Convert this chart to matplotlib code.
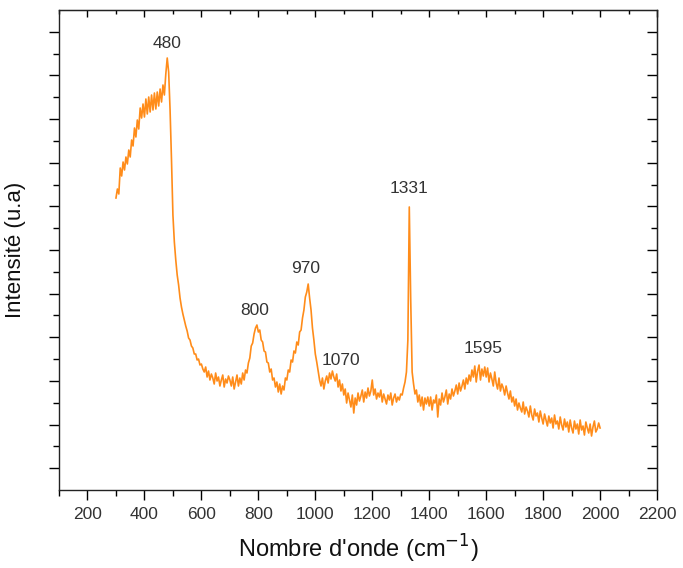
import numpy as np
import matplotlib
matplotlib.use("Agg")
import matplotlib.pyplot as plt
from matplotlib.ticker import MultipleLocator, FixedLocator, NullFormatter

plt.rcParams['font.family'] = ['Liberation Sans', 'DejaVu Sans']

# Raman spectrum, sampled every 5 cm-1 from 300 to 2000 cm-1
wavenumber = np.arange(300, 2001, 5)
intensity = [
    292, 301, 296, 322, 314, 328, 320, 333, 326, 340, 333, 350, 344, 362, 353, 370, 361, 382, 372, 386,   # 300-395
    373, 391, 376, 393, 378, 395, 380, 397, 381, 398, 384, 401, 388, 405, 395, 416, 432, 418, 380, 330,   # 400-495
    275, 248, 230, 215, 205, 192, 183, 176, 170, 164, 159, 152, 150, 144, 142, 136, 136, 130, 131, 125,   # 500-595
    126, 121, 118, 123, 113, 119, 110, 116, 112, 106, 117, 109, 113, 104, 110, 115, 103, 111, 107, 114,   # 600-695
    110, 104, 113, 101, 108, 115, 104, 112, 106, 117, 110, 120, 117, 127, 132, 144, 147, 156, 162, 165,   # 700-795
    158, 160, 150, 148, 139, 138, 128, 127, 118, 121, 110, 112, 103, 108, 98, 106, 96, 104, 100, 112,     # 800-895
    110, 120, 118, 130, 128, 139, 137, 148, 145, 158, 160, 172, 180, 193, 198, 206, 192, 180, 162, 150,   # 900-995
    136, 128, 119, 110, 104, 112, 101, 109, 114, 107, 117, 111, 119, 113, 109, 116, 103, 110, 99, 106,    # 1000-1095
    95, 101, 87, 97, 90, 83, 95, 77, 92, 85, 97, 89, 94, 100, 88, 98, 92, 102, 94, 99,                    # 1100-1195
    110, 95, 101, 91, 97, 93, 100, 88, 96, 91, 86, 95, 90, 97, 85, 92, 96, 88, 93, 90,                    # 1200-1295
    96, 95, 102, 108, 118, 150, 283, 190, 118, 106, 96, 100, 88, 95, 84, 93, 80, 92, 86, 93,              # 1300-1395
    84, 93, 80, 90, 87, 95, 73, 91, 85, 97, 88, 93, 100, 86, 96, 91, 101, 94, 99, 105,                    # 1400-1495
    96, 107, 99, 104, 110, 101, 112, 106, 115, 109, 120, 113, 124, 108, 119, 125, 110, 121, 114, 123,     # 1500-1595
    113, 122, 108, 117, 111, 104, 118, 107, 101, 112, 99, 106, 102, 95, 104, 97, 91, 99, 88, 93,          # 1600-1695
    84, 91, 80, 87, 82, 78, 88, 76, 83, 79, 73, 84, 75, 70, 81, 74, 77, 68, 79, 72,                       # 1700-1795
    66, 76, 70, 64, 74, 67, 72, 62, 75, 66, 69, 61, 73, 65, 60, 71, 63, 68, 58, 70,                       # 1800-1895
    62, 57, 69, 61, 66, 56, 70, 60, 64, 55, 68, 62, 57, 66, 54, 63, 69, 58, 61, 67,                       # 1900-1995
    62,                                                                                                   # 2000
]

peak_labels = ['480', '800', '970', '1070', '1331', '1595']
x_ticks = [200, 400, 600, 800, 1000, 1200, 1400, 1600, 1800, 2000, 2200]

fig = plt.figure(figsize=(6.83, 5.68), dpi=100)
ax = fig.add_axes([0.0864, 0.1373, 0.8756, 0.8451])

ax.plot(wavenumber, intensity, color='#ff8c1a', linewidth=1.2)

# peak labels (text positions)
label_pos = [(479, 446), (788, 180), (967, 222), (1090, 130), (1329, 302), (1589, 142)]
for lab, (lx, ly) in zip(peak_labels, label_pos):
    ax.text(lx, ly, lab, ha='center', va='center', fontsize=12.5, color='#333333')

ax.set_xlim(100, 2200)
ax.set_ylim(0, 480)
ax.xaxis.set_major_locator(FixedLocator(x_ticks))
ax.xaxis.set_minor_locator(MultipleLocator(100))
step = 43.64
ax.yaxis.set_major_locator(FixedLocator([21.8 + step * k for k in range(11)]))
ax.yaxis.set_minor_locator(FixedLocator([step * k for k in range(1, 11)]))
ax.yaxis.set_major_formatter(NullFormatter())

for s in ax.spines.values():
    s.set_linewidth(1.0)
    s.set_color('#222222')

ax.tick_params(axis='x', which='major', direction='out', length=7, width=1, labelsize=12.5, labelcolor='#333333', pad=5)
ax.tick_params(axis='x', which='minor', direction='out', length=4, width=1)
ax.tick_params(axis='y', which='major', direction='out', length=7, width=1, left=True, right=False)
ax.tick_params(axis='y', which='minor', direction='out', length=4, width=1, left=True, right=False)

# secondary ticks (inward) on top and right
axt = ax.secondary_xaxis('top')
axt.xaxis.set_major_locator(FixedLocator(x_ticks))
axt.xaxis.set_minor_locator(MultipleLocator(100))
axt.tick_params(which='major', direction='in', length=5, width=1, labeltop=False)
axt.tick_params(which='minor', direction='in', length=3, width=1)
axt.xaxis.set_major_formatter(NullFormatter())
axr = ax.secondary_yaxis('right')
axr.yaxis.set_major_locator(FixedLocator([21.8 + step * k for k in range(11)]))
axr.yaxis.set_minor_locator(FixedLocator([step * k for k in range(1, 11)]))
axr.tick_params(which='major', direction='in', length=7, width=1, labelright=False)
axr.tick_params(which='minor', direction='in', length=4, width=1)
axr.yaxis.set_major_formatter(NullFormatter())

ax.set_xlabel("Nombre d'onde (cm$^{-1}$)", fontsize=17, color='#111111', labelpad=8)
ax.set_ylabel("Intensité (u.a)", fontsize=16, color='#111111', labelpad=13)

fig.savefig('out.png', dpi=100)
